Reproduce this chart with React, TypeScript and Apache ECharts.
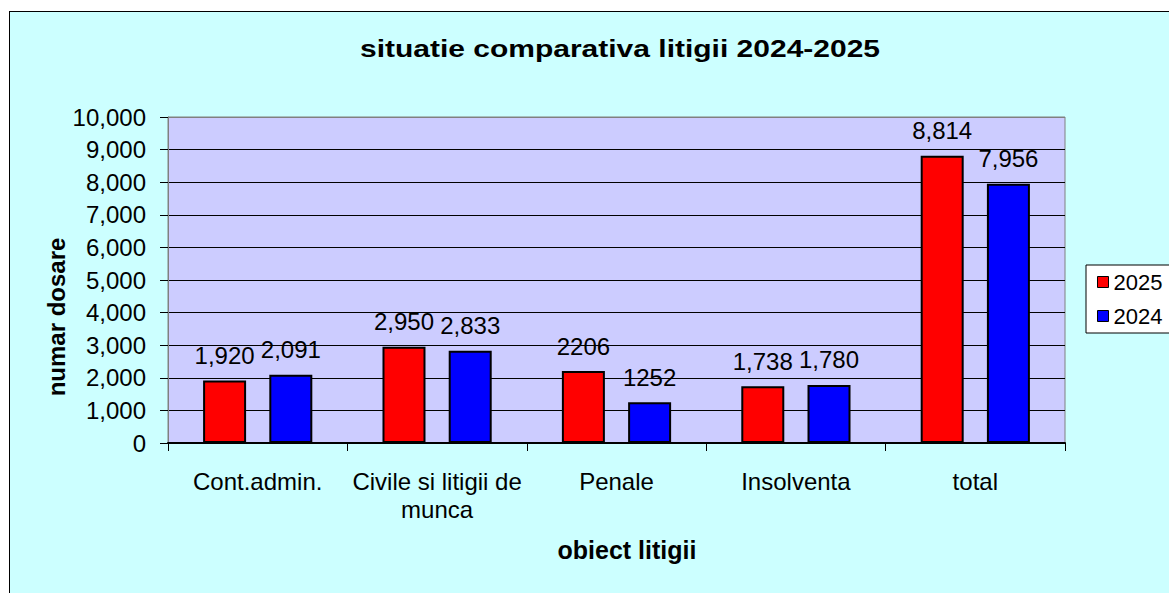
import React, { useEffect, useRef } from 'react';
import * as echarts from 'echarts';

const categories = ['Cont.admin.', 'Civile si litigii de munca', 'Penale', 'Insolventa', 'total'];
const values2025 = [1920, 2950, 2206, 1738, 8814];
const values2024 = [2091, 2833, 1252, 1780, 7956];
const unformattedCategories = ['Penale'];
const seriesNames = ['2025', '2024'];
const yMax = 10000;
const yInterval = 1000;

const FONT = '"Liberation Sans", Arial, sans-serif';

const fmt = (v: number, cat: string) =>
  unformattedCategories.includes(cat) ? String(v) : v.toLocaleString('en-US');

export default function App() {
  const ref = useRef<HTMLDivElement>(null);
  useEffect(() => {
    document.body.style.margin = '0';
    const chart = echarts.init(ref.current!, null, { renderer: 'svg' });
    const splitColors: string[] = [];
    for (let i = 0; i <= yMax / yInterval; i++) splitColors.push(i === yMax / yInterval ? '#808080' : '#000000');
    const mkSeries = (name: string, data: number[], color: string) => ({
      name,
      type: 'bar',
      data,
      barWidth: 43,
      barGap: '54%',
      itemStyle: { color, borderColor: '#000', borderWidth: 2 },
      label: {
        show: true,
        position: 'top',
        distance: 13,
        color: '#000',
        fontFamily: FONT,
        fontSize: 24,
        formatter: (p: any) => fmt(p.value, categories[p.dataIndex]),
      },
    });
    chart.setOption({
      animation: false,
      backgroundColor: '#CCFFFF',
      textStyle: { fontFamily: FONT },
      graphic: [
        { type: 'rect', shape: { x: 0, y: 0, width: 1169, height: 11 }, style: { fill: '#fff' } },
        { type: 'rect', shape: { x: 0, y: 0, width: 9, height: 593 }, style: { fill: '#fff' } },
        { type: 'line', shape: { x1: 9.5, y1: 11, x2: 9.5, y2: 593 }, style: { stroke: '#000', lineWidth: 1 } },
        { type: 'line', shape: { x1: 9, y1: 11.5, x2: 1169, y2: 11.5 }, style: { stroke: '#000', lineWidth: 1 } },
        {
          type: 'text',
          x: 620,
          y: 49,
          scaleX: 1.25,
          style: {
            text: 'situatie comparativa litigii 2024-2025',
            font: `bold 24px ${FONT}`,
            fill: '#000',
            textAlign: 'center',
            textVerticalAlign: 'middle',
          },
        },
        {
          type: 'text',
          x: 56,
          y: 317,
          rotation: Math.PI / 2,
          style: {
            text: 'numar dosare',
            font: `bold 24px ${FONT}`,
            fill: '#000',
            textAlign: 'center',
            textVerticalAlign: 'middle',
          },
        },
        {
          type: 'text',
          x: 627,
          y: 550,
          style: {
            text: 'obiect litigii',
            font: `bold 25px ${FONT}`,
            fill: '#000',
            textAlign: 'center',
            textVerticalAlign: 'middle',
          },
        },
      ],
      legend: {
        orient: 'vertical',
        left: 1086,
        top: 265,
        data: seriesNames,
        icon: 'rect',
        itemWidth: 11,
        itemHeight: 11,
        itemGap: 12,
        padding: [6, 10, 6, 11],
        backgroundColor: '#fff',
        borderColor: '#000',
        borderWidth: 1,
        textStyle: { color: '#000', fontFamily: FONT, fontSize: 22, lineHeight: 22 },
        itemStyle: { borderColor: '#000', borderWidth: 1 },
      },
      grid: {
        left: 168,
        top: 117,
        right: 104,
        bottom: 150,
        show: true,
        backgroundColor: '#CCCCFF',
        borderColor: '#808080',
        borderWidth: 1,
      },
      xAxis: {
        type: 'category',
        data: categories,
        axisLine: { lineStyle: { color: '#000', width: 2 } },
        axisTick: { show: true, length: 8, interval: 0, lineStyle: { color: '#000' } },
        axisLabel: {
          interval: 0,
          margin: 24,
          color: '#000',
          fontFamily: FONT,
          fontSize: 24,
          lineHeight: 28,
          formatter: (v: string) => (v === 'Civile si litigii de munca' ? 'Civile si litigii de\nmunca' : v),
        },
        splitLine: { show: false },
      },
      yAxis: {
        type: 'value',
        min: 0,
        max: yMax,
        interval: yInterval,
        axisLine: { show: true, lineStyle: { color: '#808080', width: 1 } },
        axisTick: { show: true, length: 8, lineStyle: { color: '#000' } },
        axisLabel: {
          margin: 22,
          color: '#000',
          fontFamily: FONT,
          fontSize: 24,
          formatter: (v: number) => v.toLocaleString('en-US'),
        },
        splitLine: { show: true, lineStyle: { color: splitColors, width: 1 } },
      },
      series: [mkSeries(seriesNames[0], values2025, '#FF0000'), mkSeries(seriesNames[1], values2024, '#0000FF')],
    });
    return () => chart.dispose();
  }, []);
  return <div ref={ref} style={{ width: 1169, height: 593 }} />;
}
